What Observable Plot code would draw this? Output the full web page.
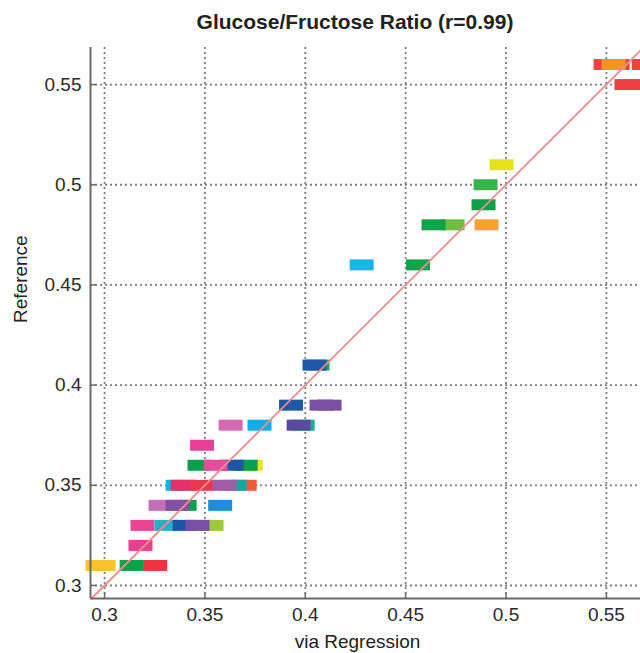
<!DOCTYPE html>
<html>
<head>
<meta charset="utf-8">
<script src="https://cdn.jsdelivr.net/npm/d3@7"></script>
<script src="https://cdn.jsdelivr.net/npm/@observablehq/plot@0.6"></script>
<style>
  body { margin: 0; background: #fff; font-family: "Liberation Sans", Arial, sans-serif; }
  #title { width: 640px; height: 40px; box-sizing: border-box; padding-left: 70px; text-align: center;
           font-weight: bold; font-size: 21px; line-height: 44px; color: #222; }
  #chart svg { display: block; }
</style>
</head>
<body>
<div id="title">Glucose/Fructose Ratio (r=0.99)</div>
<div id="chart"></div>
<script>
// Each marker: regression estimate (x), reference value (y), colour. Listed in drawing order.
const regression = [
  0.2965, 0.2995, 0.3135, 0.3252,
  0.3179,
  0.3189, 0.3309, 0.3399, 0.3533, 0.3463,
  0.3279, 0.3399, 0.3364, 0.3576,
  0.3364, 0.3389, 0.3488, 0.3698, 0.3648, 0.3598,
  0.3473, 0.3728, 0.3703, 0.3633, 0.3553,
  0.3486,
  0.3628, 0.3772, 0.3987, 0.3967,
  0.3929, 0.4081, 0.4121,
  0.4061, 0.4046,
  0.4281, 0.4562,
  0.4734, 0.4639, 0.4903,
  0.4888,
  0.4898,
  0.4978,
  0.5600, 0.5710,
  0.5496, 0.5556, 0.5536, 0.5686
];
const reference = [
  0.31, 0.31, 0.31, 0.31,
  0.32,
  0.33, 0.33, 0.33, 0.33, 0.33,
  0.34, 0.34, 0.34, 0.34,
  0.35, 0.35, 0.35, 0.35, 0.35, 0.35,
  0.36, 0.36, 0.36, 0.36, 0.36,
  0.37,
  0.38, 0.38, 0.38, 0.38,
  0.39, 0.39, 0.39,
  0.41, 0.41,
  0.46, 0.46,
  0.48, 0.48, 0.48,
  0.49,
  0.50,
  0.51,
  0.55, 0.55,
  0.56, 0.56, 0.56, 0.56
];
const colors = [
  "#fcc22d", "#fcc22d", "#07a14a", "#ec3440",
  "#ea3f8e",
  "#ea4595", "#22b0c6", "#1d55a6", "#9dca3b", "#7b4fa3",
  "#c76db5", "#0ba14b", "#8151a4", "#1a90d8",
  "#12b4e8", "#e6306c", "#e8374f", "#f05a3b", "#14a99c", "#a55ca8",
  "#0aa04a", "#ede614", "#0aa04a", "#1f55a5", "#e64b9d",
  "#ec3d96",
  "#d569b2", "#10aeea", "#1bb08e", "#5a4ba2",
  "#2056a7", "#7a50a3", "#7a50a3",
  "#18a85c", "#2057a8",
  "#1ab4e6", "#0ea24b",
  "#6dbf44", "#10a24a", "#f9a03a",
  "#0d9f49",
  "#3cb34a",
  "#e6e21a",
  "#ee3f43", "#ee3f43",
  "#ee3f43", "#ee3f43", "#f7941e", "#ee3f43"
];
const xTicks = [0.3, 0.35, 0.4, 0.45, 0.5, 0.55];
const yTicks = [0.3, 0.35, 0.4, 0.45, 0.5, 0.55];
const xLabel = "via Regression";
const yLabel = "Reference";

const points = regression.map((x, i) => ({x, y: reference[i], color: colors[i]}));
const xDomain = [0.2930, 0.5670];
const yDomain = [0.2935, 0.5685];
const diagonal = [Math.max(xDomain[0], yDomain[0]), Math.min(xDomain[1], yDomain[1])];

const barSymbol = {draw(ctx) { ctx.rect(-12, -5.5, 24, 11); }};
const tickUp = {draw(ctx) { ctx.moveTo(0, 0); ctx.lineTo(0, -6); }};
const tickRight = {draw(ctx) { ctx.moveTo(0, 0); ctx.lineTo(6, 0); }};
const axisColor = "#6a6a6a";
const gridColor = "#7d7d7d";
const fmt = d => String(+d.toFixed(2));

const chart = Plot.plot({
  width: 640,
  height: 613,
  marginTop: 7,
  marginBottom: 55,
  marginLeft: 90,
  marginRight: 0,
  style: {fontFamily: "'Liberation Sans', Arial, sans-serif", fontSize: "19px", color: "#333", background: "#fff"},
  x: {domain: xDomain, label: null},
  y: {domain: yDomain, label: null},
  color: {type: "identity"},
  marks: [
    Plot.ruleX(xTicks, {x: d => d, stroke: gridColor, strokeWidth: 1.8, strokeDasharray: "2,3"}),
    Plot.ruleY(yTicks, {y: d => d, stroke: gridColor, strokeWidth: 1.8, strokeDasharray: "2,3"}),
    Plot.dot(points, {x: "x", y: "y", fill: "color", symbol: barSymbol, r: 5}),
    Plot.line(diagonal, {x: d => d, y: d => d, stroke: "#f28c8c", strokeWidth: 1.8}),
    Plot.ruleX([xDomain[0]], {stroke: axisColor, strokeWidth: 2}),
    Plot.ruleY([yDomain[0]], {stroke: axisColor, strokeWidth: 2}),
    Plot.dot(xTicks, {x: d => d, frameAnchor: "bottom", symbol: tickUp, fill: "none", stroke: axisColor, strokeWidth: 1.5}),
    Plot.dot(yTicks, {y: d => d, frameAnchor: "left", symbol: tickRight, fill: "none", stroke: axisColor, strokeWidth: 1.5}),
    Plot.axisX(xTicks, {tickSize: 0, tickPadding: 9, tickFormat: fmt, label: null, fill: "#2a2a2a"}),
    Plot.axisY(yTicks, {tickSize: 0, tickPadding: 9, tickFormat: fmt, label: null, fill: "#2a2a2a"}),
    Plot.text([yLabel], {frameAnchor: "left", rotate: -90, dx: -70, fill: "#222"}),
    Plot.text([xLabel], {frameAnchor: "bottom", dy: 49, dx: -8, fill: "#222"})
  ]
});
document.getElementById("chart").appendChild(chart);
</script>
</body>
</html>
